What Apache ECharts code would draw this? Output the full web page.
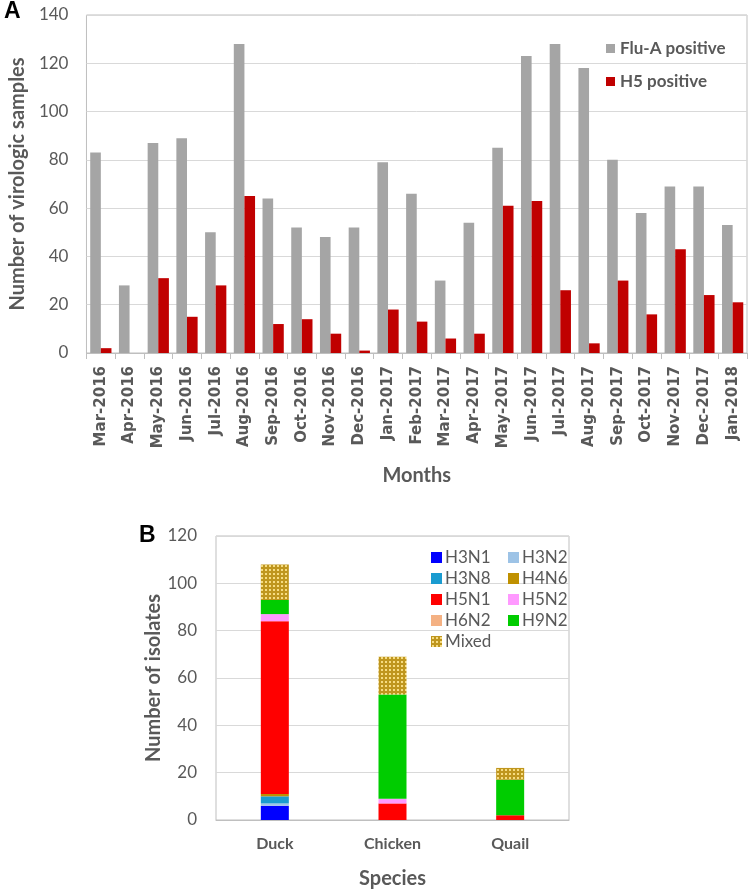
<!DOCTYPE html>
<html><head><meta charset="utf-8">
<script src="https://cdn.jsdelivr.net/npm/echarts@6/dist/echarts.min.js"></script>
<style>html,body{margin:0;padding:0;background:#fff}#c{width:750px;height:893px}</style>
</head><body><div id="c"></div>
<script>
// Panel A data
const months = ['Mar-2016','Apr-2016','May-2016','Jun-2016','Jul-2016','Aug-2016','Sep-2016','Oct-2016','Nov-2016','Dec-2016','Jan-2017','Feb-2017','Mar-2017','Apr-2017','May-2017','Jun-2017','Jul-2017','Aug-2017','Sep-2017','Oct-2017','Nov-2017','Dec-2017','Jan-2018'];
const fluA = [83,28,87,89,50,128,64,52,48,52,79,66,30,54,85,123,128,118,80,58,69,69,53];
const h5   = [2,0,31,15,28,65,12,14,8,1,18,13,6,8,61,63,26,4,30,16,43,24,21];
const yTicksA = [0,20,40,60,80,100,120,140];

// Panel B data
const species = ['Duck','Chicken','Quail'];
const subtypes = ['H3N1','H3N2','H3N8','H4N6','H5N1','H5N2','H6N2','H9N2','Mixed'];
const H3N1 = [6,0,0];
const H3N2 = [1,0,0];
const H3N8 = [3,0,0];
const H4N6 = [1,0,0];
const H5N1 = [73,7,2];
const H5N2 = [3,2,0];
const H6N2 = [0,0,0];
const H9N2 = [6,44,15];
const Mixed = [15,16,5];
const yTicksB = [0,20,40,60,80,100,120];

const subValues = {H3N1,H3N2,H3N8,H4N6,H5N1,H5N2,H6N2,H9N2,Mixed};

// pattern for Mixed
const pc = document.createElement('canvas');
pc.width = 4; pc.height = 4;
const pctx = pc.getContext('2d');
pctx.fillStyle = '#bf961e'; pctx.fillRect(0,0,4,4);
pctx.fillStyle = '#f6dc82'; pctx.fillRect(1,1,2,2);

const subColors = {
  H3N1:'#0000ff', H3N2:'#9dc3e6', H3N8:'#1a9bd0', H4N6:'#bf9000',
  H5N1:'#ff0000', H5N2:'#ff99ff', H6N2:'#f4b183', H9N2:'#00cc00',
  Mixed:{image: pc, repeat:'repeat'}
};

const FONT = 'Lato';
const GRAY = '#595959';

const chart = echarts.init(document.getElementById('c'), null, {renderer:'canvas'});

const seriesB = subtypes.map(s => ({
  name: s, type:'bar', stack:'b', xAxisIndex:1, yAxisIndex:1,
  barWidth: 28, data: subValues[s],
  itemStyle:{color: subColors[s]}
}));

chart.setOption({
  animation:false,
  textStyle:{fontFamily:FONT},
  graphic:[
    {type:'text', left:4, top:0, style:{text:'A', font:'bold 23px "Liberation Sans"', fill:'#000'}},
    {type:'text', left:139, top:524, style:{text:'B', font:'bold 23px "Liberation Sans"', fill:'#000'}}
  ],
  legend:[
    {data:['Flu-A positive','H5 positive'], orient:'vertical', left:601, top:35,
     itemWidth:9, itemHeight:9, itemGap:16, icon:'rect',
     textStyle:{fontFamily:FONT, fontWeight:'bold', fontSize:17, color:GRAY}},
    {data:['H3N1','H3N8','H5N1','H6N2','Mixed'], orient:'vertical', left:426, top:544,
     itemWidth:11, itemHeight:11, itemGap:4, icon:'rect',
     textStyle:{fontFamily:FONT, fontSize:17, color:GRAY, padding:[0,0,0,-2]}},
    {data:['H3N2','H4N6','H5N2','H9N2'], orient:'vertical', left:503, top:544,
     itemWidth:11, itemHeight:11, itemGap:4, icon:'rect',
     textStyle:{fontFamily:FONT, fontSize:17, color:GRAY, padding:[0,0,0,-2]}}
  ],
  grid:[
    {left:80, right:3, top:15, height:338, show:true, borderColor:'#bfbfbf', borderWidth:1, containLabel:false},
    {left:216, width:353, top:536, height:284, show:true, borderColor:'#bfbfbf', borderWidth:1, containLabel:false}
  ],
  xAxis:[
    {type:'category', gridIndex:0, data:months,
     axisLine:{lineStyle:{color:'#bfbfbf'}},
     axisTick:{show:true, length:6, interval:0, lineStyle:{color:'#bfbfbf'}},
     axisLabel:{interval:0, rotate:90, margin:13, fontFamily:'DejaVu Sans', fontWeight:'bold', fontSize:15, color:GRAY},
     name:'Months', nameLocation:'middle', nameGap:113,
     nameTextStyle:{fontFamily:FONT, fontWeight:'bold', fontSize:20, color:GRAY}},
    {type:'category', gridIndex:1, data:species,
     axisLine:{lineStyle:{color:'#bfbfbf'}},
     axisTick:{show:false},
     axisLabel:{interval:0, margin:16, fontFamily:FONT, fontWeight:'bold', fontSize:16, color:GRAY},
     name:'Species', nameLocation:'middle', nameGap:49,
     nameTextStyle:{fontFamily:FONT, fontWeight:'bold', fontSize:20, color:GRAY}}
  ],
  yAxis:[
    {type:'value', gridIndex:0, min:yTicksA[0], max:yTicksA[yTicksA.length-1], interval:20,
     axisLine:{show:false}, axisTick:{show:false},
     splitLine:{lineStyle:{color:'#d9d9d9'}},
     axisLabel:{margin:18, fontFamily:FONT, fontSize:17, color:GRAY},
     name:'Number of virologic samples', nameLocation:'middle', nameGap:54,
     nameTextStyle:{fontFamily:FONT, fontWeight:'bold', fontSize:20, color:GRAY}},
    {type:'value', gridIndex:1, min:yTicksB[0], max:yTicksB[yTicksB.length-1], interval:20,
     axisLine:{show:false}, axisTick:{show:false},
     splitLine:{lineStyle:{color:'#d9d9d9'}},
     axisLabel:{margin:19, fontFamily:FONT, fontSize:17, color:GRAY},
     name:'Number of isolates', nameLocation:'middle', nameGap:48,
     nameTextStyle:{fontFamily:FONT, fontWeight:'bold', fontSize:20, color:GRAY}}
  ],
  series:[
    {name:'Flu-A positive', type:'bar', xAxisIndex:0, yAxisIndex:0, data:fluA,
     barWidth:'37%', barGap:'0%', itemStyle:{color:'#a5a5a5'}},
    {name:'H5 positive', type:'bar', xAxisIndex:0, yAxisIndex:0, data:h5,
     barWidth:'37%', barGap:'0%', itemStyle:{color:'#c00000'}}
  ].concat(seriesB)
});
</script></body></html>
